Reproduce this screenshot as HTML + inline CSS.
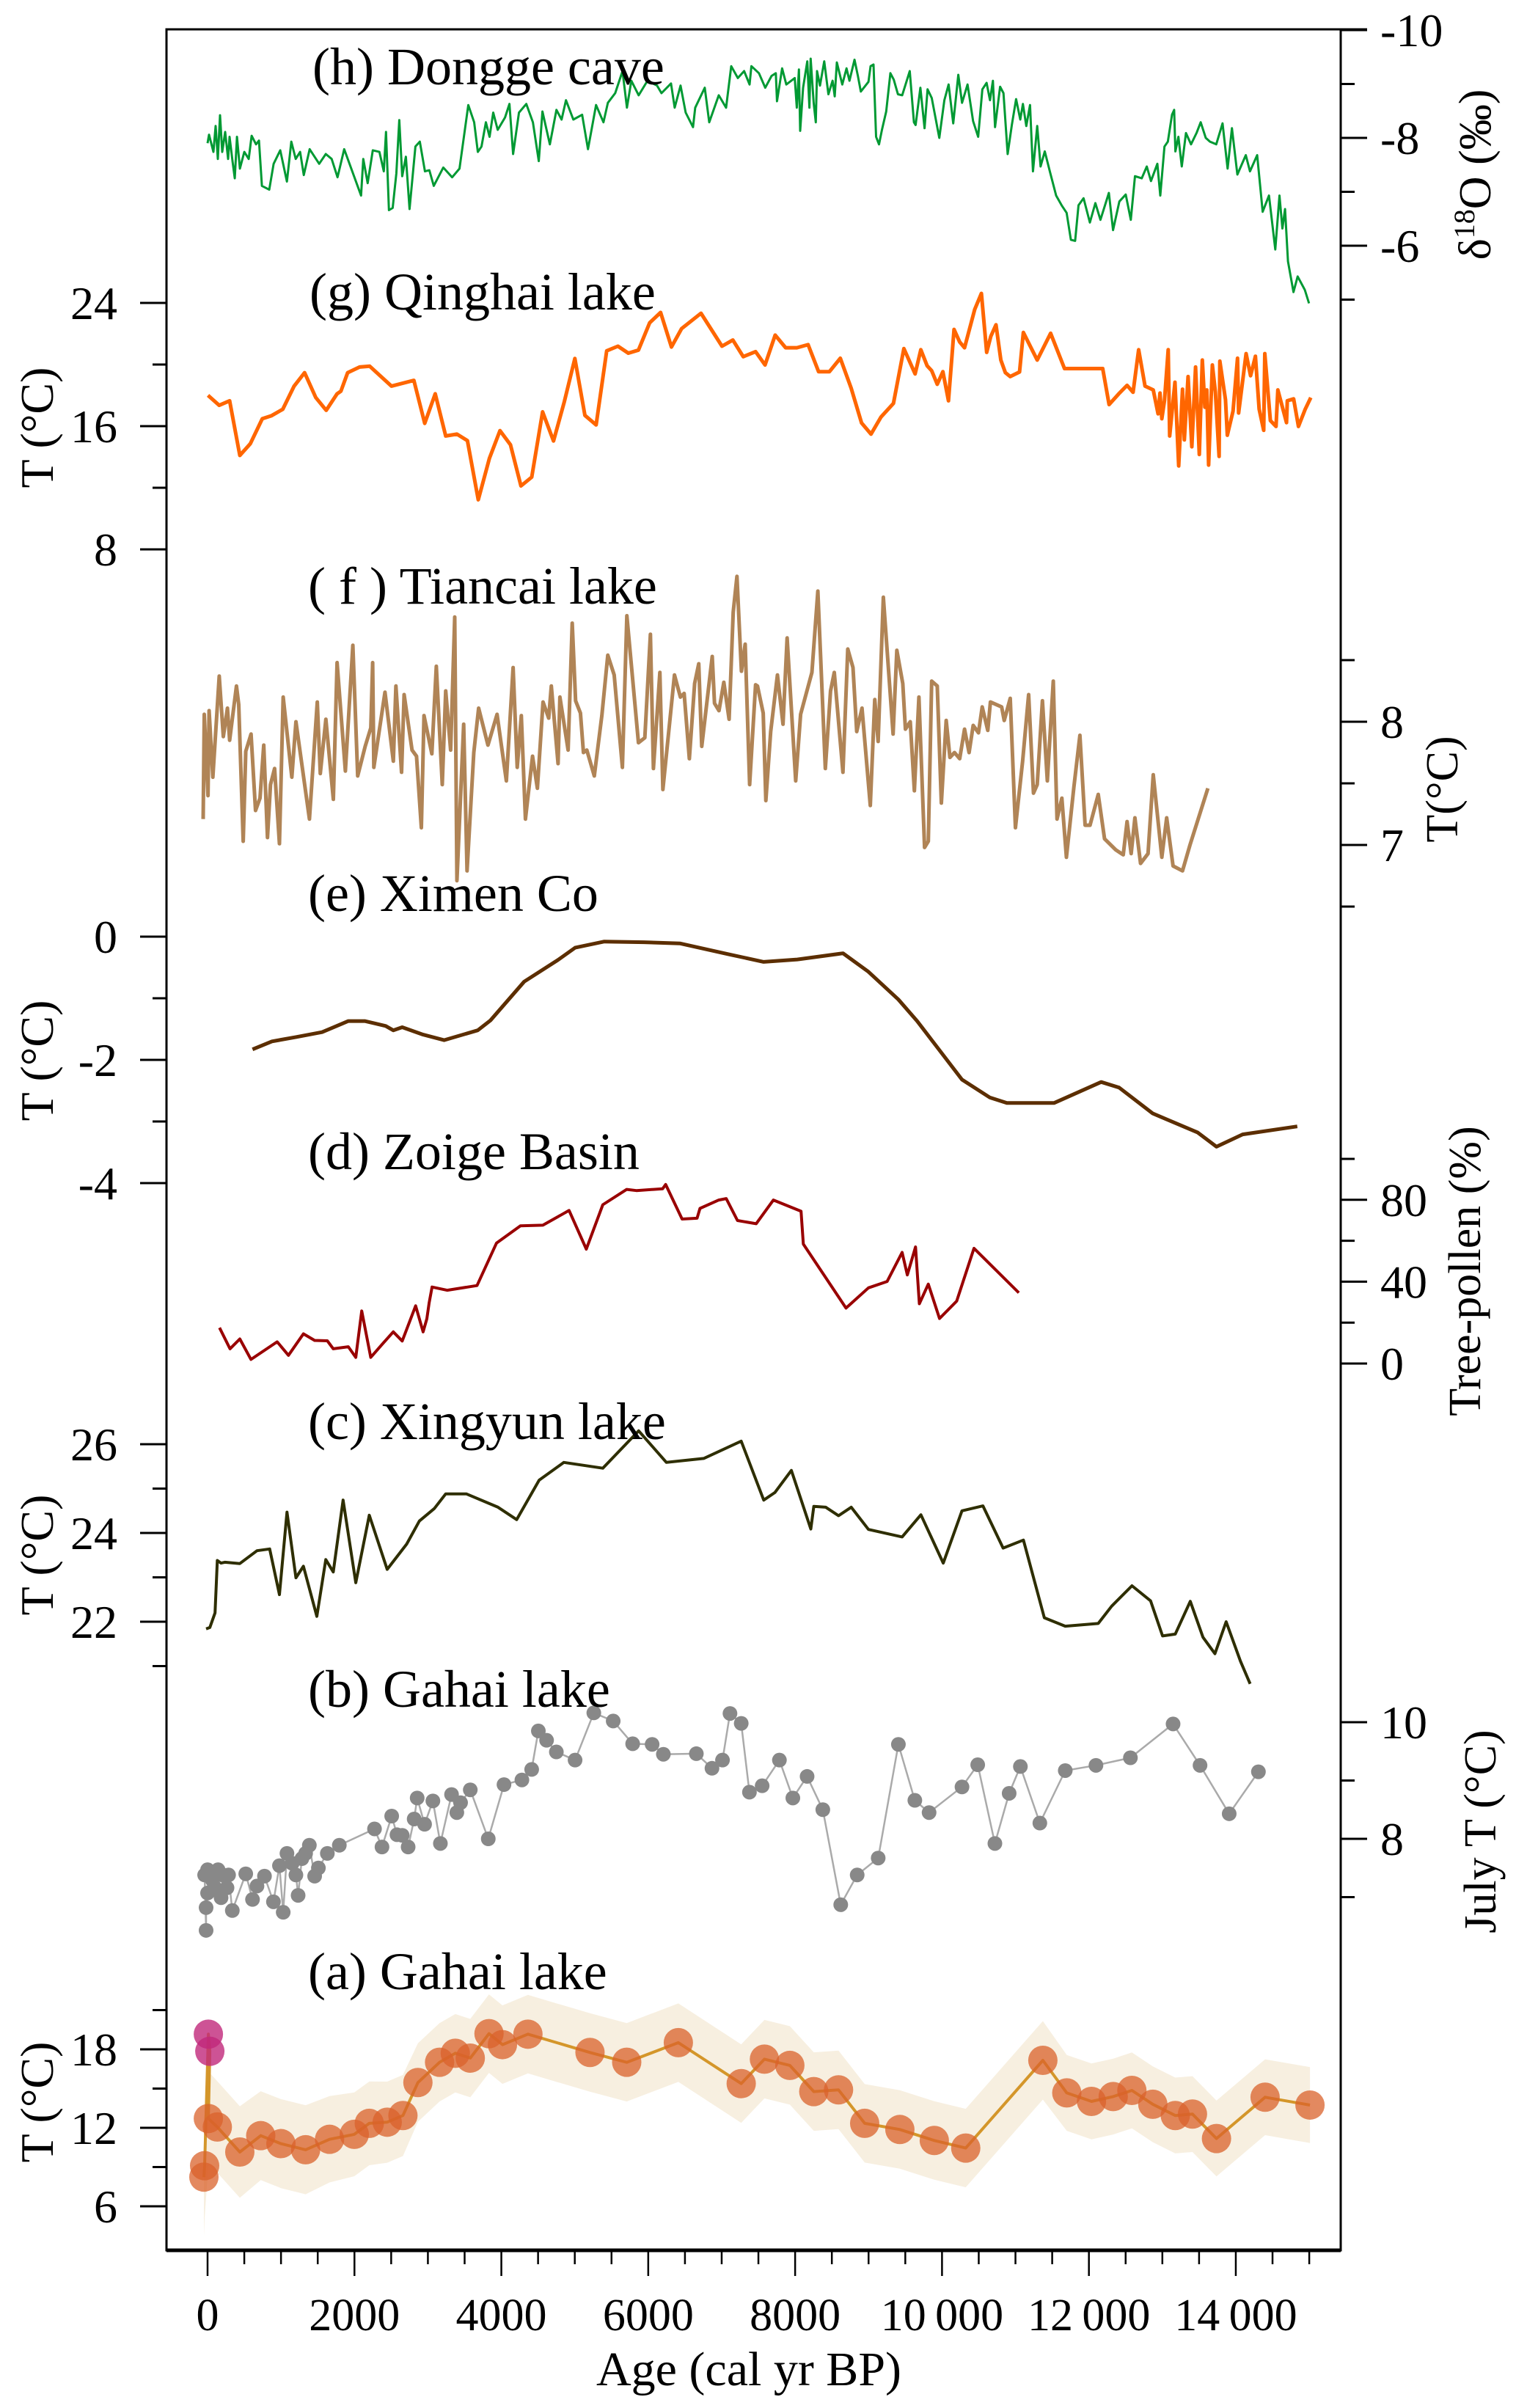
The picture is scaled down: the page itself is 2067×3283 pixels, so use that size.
<!DOCTYPE html>
<html><head><meta charset="utf-8"><style>
html,body{margin:0;padding:0;background:#fff;}
svg{display:block;font-family:"Liberation Serif",serif;}
</style></head><body>
<svg id="chart" width="2067" height="3283" viewBox="0 0 2067 3283" xmlns="http://www.w3.org/2000/svg">
<rect x="0" y="0" width="2067" height="3283" fill="#fff"/>
<g id="bands"></g><g id="series"></g><g id="axes"></g><g id="labels"></g>
</svg>
<script>
const dongAge=[0,20,80,110,140,170,200,240,280,300,340,370,400,440,500,560,600,660,700,740,840,900,990,1080,1140,1200,1260,1310,1390,1520,1610,1690,1770,1860,2090,2120,2180,2250,2340,2400,2430,2470,2520,2570,2610,2650,2700,2750,2830,2890,2960,3020,3080,3210,3330,3430,3550,3630,3680,3730,3790,3840,3890,3950,4050,4110,4160,4240,4340,4430,4510,4560,4660,4750,4820,4880,4980,5100,5180,5290,5390,5450,5550,5650,5710,5770,5870,5990,6120,6180,6310,6360,6440,6510,6610,6640,6770,6830,6960,7060,7130,7220,7306,7380,7405,7507,7593,7679,7737,7753,7823,7880,7995,8023,8052,8069,8109,8166,8195,8212,8252,8281,8298,8338,8396,8453,8510,8539,8568,8642,8700,8740,8809,8855,8895,8998,9027,9067,9102,9142,9182,9240,9297,9343,9400,9458,9561,9618,9641,9705,9762,9803,9860,9963,10032,10090,10153,10222,10273,10348,10423,10492,10549,10607,10653,10693,10722,10791,10837,10894,10951,11009,11066,11101,11147,11198,11238,11296,11342,11399,11468,11554,11629,11697,11755,11812,11858,11927,12013,12088,12157,12272,12329,12415,12501,12570,12627,12719,12788,12845,12932,12972,13029,13075,13132,13161,13178,13218,13264,13321,13390,13465,13522,13591,13648,13734,13820,13889,13947,14021,14136,14193,14291,14366,14452,14538,14595,14635,14670,14710,14785,14842,14940,14997];
const dongVal=[-7.90,-8.06,-7.74,-8.22,-7.61,-8.42,-7.74,-8.11,-7.61,-8.02,-7.57,-7.25,-8.02,-7.43,-7.74,-7.61,-8.04,-7.88,-7.95,-7.11,-7.04,-7.52,-7.77,-7.19,-7.93,-7.61,-7.74,-7.31,-7.79,-7.52,-7.70,-7.61,-7.27,-7.79,-6.93,-7.61,-7.16,-7.77,-7.74,-7.38,-8.11,-6.66,-6.70,-7.34,-8.33,-7.29,-7.65,-6.68,-7.84,-7.93,-7.38,-7.40,-7.11,-7.45,-7.27,-7.43,-8.61,-8.29,-7.74,-7.84,-8.29,-8.02,-8.47,-8.15,-8.38,-8.63,-7.70,-8.47,-8.63,-8.29,-7.57,-8.49,-7.88,-8.52,-8.34,-8.70,-8.34,-8.43,-7.79,-8.61,-8.29,-8.65,-8.83,-9.24,-8.56,-9.06,-8.79,-9.06,-8.97,-8.83,-9.01,-8.56,-8.97,-8.47,-8.20,-8.56,-8.93,-8.29,-8.79,-8.56,-9.33,-9.11,-9.24,-8.99,-9.33,-9.20,-8.93,-9.15,-9.20,-8.68,-9.29,-8.99,-9.11,-8.56,-9.27,-8.13,-8.93,-9.42,-8.56,-9.47,-8.65,-8.29,-9.24,-8.97,-9.42,-8.81,-9.06,-8.77,-9.40,-8.99,-9.29,-9.06,-9.45,-9.15,-8.86,-9.04,-9.33,-9.36,-8.02,-7.88,-8.15,-8.49,-9.20,-9.08,-8.81,-8.79,-9.24,-8.29,-8.24,-8.93,-8.18,-8.90,-8.74,-8.00,-8.70,-8.99,-8.27,-9.17,-8.65,-8.99,-8.31,-8.02,-8.90,-9.02,-8.70,-9.06,-8.20,-8.95,-8.83,-7.70,-8.24,-8.72,-8.34,-8.63,-8.22,-8.61,-7.38,-8.22,-7.47,-7.75,-7.38,-6.93,-6.75,-6.61,-6.11,-6.09,-6.75,-6.88,-6.43,-6.79,-6.48,-6.98,-6.29,-6.82,-6.95,-6.48,-7.29,-7.25,-7.47,-7.20,-7.52,-6.93,-7.84,-7.93,-8.43,-8.52,-7.75,-8.02,-7.47,-8.09,-7.88,-8.09,-8.29,-8.00,-7.93,-7.88,-8.27,-7.43,-8.18,-7.32,-7.68,-7.38,-7.68,-6.63,-6.93,-5.93,-6.93,-6.32,-6.68,-5.71,-5.14,-5.43,-5.18,-4.93];
const qingAge=[6,159,301,439,582,745,872,1025,1178,1321,1474,1616,1764,1815,1907,2070,2208,2503,2809,2957,3100,3242,3395,3538,3686,3838,3981,4124,4267,4414,4562,4710,4858,5001,5138,5291,5434,5587,5729,5867,6020,6168,6316,6454,6719,7004,7152,7294,7462,7590,7728,7871,8024,8177,8319,8467,8615,8763,8905,9033,9170,9339,9481,9634,9711,9797,9859,9935,10012,10088,10164,10241,10307,10445,10536,10608,10664,10735,10801,10863,10929,11056,11107,11296,11479,11668,12188,12275,12407,12519,12601,12677,12764,12876,12942,12968,12993,13029,13080,13100,13172,13222,13274,13299,13350,13401,13452,13503,13544,13579,13605,13630,13681,13722,13773,13783,13860,13885,13962,14023,14038,14140,14201,14267,14318,14380,14395,14471,14548,14573,14690,14701,14787,14853,14945,15021];
const qingVal=[18.0,17.35,17.65,14.1,14.86,16.48,16.68,17.1,18.6,19.47,17.85,17.03,18.1,18.27,19.47,19.84,19.89,18.6,18.97,16.18,18.1,15.36,15.48,15.06,11.22,13.91,15.71,14.79,12.12,12.69,16.93,15.04,17.6,20.39,16.7,16.08,20.89,21.19,20.74,20.94,22.71,23.38,21.14,22.33,23.33,21.19,21.59,20.51,20.84,19.97,21.91,21.09,21.09,21.29,19.54,19.54,20.41,18.47,16.21,15.48,16.6,17.48,21.04,19.39,20.96,19.92,19.6,18.72,19.54,17.65,22.28,21.46,21.09,23.58,24.62,20.79,21.83,22.58,20.29,19.47,19.22,19.52,22.08,20.29,22.03,19.74,19.74,17.4,18.1,18.65,18.2,20.96,18.6,18.35,16.8,18.15,16.48,17.65,20.96,15.36,18.85,13.42,18.4,15.11,19.22,14.66,19.84,14.16,20.29,17.23,18.35,13.47,19.97,18.22,14.04,20.22,17.72,15.41,16.98,20.41,16.85,20.71,19.27,20.54,17.1,15.73,20.71,16.36,15.98,18.35,16.23,17.65,17.77,15.98,17.1,17.85];
const tianAge=[-60,-45,6,21,72,159,215,271,301,393,424,485,520,592,653,714,765,816,857,913,979,1030,1147,1203,1387,1494,1535,1611,1713,1764,1876,1978,2044,2146,2223,2248,2264,2416,2529,2564,2641,2676,2784,2845,2911,2947,3054,3115,3196,3242,3309,3365,3395,3487,3533,3625,3691,3818,3941,4068,4160,4216,4272,4328,4425,4491,4568,4644,4680,4772,4797,4909,4965,5011,5077,5118,5164,5266,5368,5449,5536,5648,5709,5867,5954,6030,6071,6158,6199,6357,6438,6489,6560,6632,6688,6729,6871,6902,6963,7029,7101,7157,7208,7269,7320,7381,7462,7488,7565,7601,7667,7759,7835,7891,8008,8075,8228,8309,8411,8482,8533,8651,8717,8788,8839,8911,9023,9084,9130,9201,9334,9385,9466,9502,9568,9624,9685,9762,9813,9859,9935,9991,10057,10108,10170,10241,10307,10368,10424,10496,10547,10623,10659,10812,10847,10929,11000,11097,11179,11245,11296,11367,11434,11515,11566,11632,11694,11795,11877,11948,12015,12127,12213,12366,12468,12519,12575,12626,12703,12805,12876,12993,13059,13146,13274,13376,13620];
const tianVal=[7.21,8.06,7.40,8.09,7.55,8.37,7.88,8.11,7.85,8.29,8.14,7.03,7.76,7.90,7.28,7.38,7.81,7.06,7.49,7.62,7.01,8.20,7.55,8.00,7.21,8.16,7.58,8.02,7.37,8.48,7.60,8.62,7.56,7.80,7.95,8.48,7.63,8.24,7.68,8.29,7.59,8.22,7.77,7.72,7.14,8.05,7.74,8.45,7.49,8.25,7.77,8.85,6.71,7.98,6.79,7.75,8.11,7.81,8.06,7.52,8.44,7.63,8.05,7.21,7.72,7.46,8.16,8.03,8.29,7.66,8.20,7.77,8.80,8.17,8.07,7.75,7.77,7.56,8.05,8.54,8.38,7.63,8.86,7.83,7.87,8.71,7.62,8.40,7.45,8.38,8.20,8.23,7.70,8.31,8.47,7.80,8.53,8.15,8.09,8.32,8.02,8.89,9.18,8.41,8.63,7.49,8.30,8.29,8.07,7.36,7.92,8.38,7.98,8.68,7.52,8.06,8.40,9.06,7.62,8.25,8.40,7.59,8.59,8.44,7.92,8.11,7.32,8.18,7.84,9.01,7.90,8.58,8.31,7.94,8.00,7.44,8.20,6.98,7.03,8.33,8.29,7.34,8.01,7.71,7.75,7.70,7.94,7.75,7.97,7.91,8.12,7.93,8.16,8.12,8.01,8.19,7.14,7.68,8.22,7.42,7.49,8.17,7.52,8.33,7.21,7.38,6.90,7.47,7.89,7.16,7.16,7.41,7.05,6.96,6.92,7.19,6.93,7.22,6.85,6.93,7.57,6.90,7.22,6.83,6.79,7.00,7.46];
const ximAge=[612,877,1203,1559,1916,2140,2426,2528,2650,2935,3220,3679,3852,4311,4769,5004,5401,5941,6430,7113,7571,8030,8652,8998,9406,9661,10272,10649,10883,11525,12167,12412,12870,13482,13737,14093,14837];
const ximVal=[-1.83,-1.70,-1.63,-1.55,-1.37,-1.37,-1.45,-1.52,-1.47,-1.59,-1.68,-1.52,-1.36,-0.73,-0.38,-0.18,-0.08,-0.09,-0.11,-0.29,-0.41,-0.37,-0.27,-0.57,-1.02,-1.37,-2.32,-2.61,-2.70,-2.70,-2.36,-2.45,-2.87,-3.18,-3.41,-3.21,-3.08];
const zoiAge=[163,306,439,591,948,1101,1305,1458,1631,1712,1916,2018,2099,2222,2375,2528,2650,2833,2935,2986,3017,3057,3261,3669,3934,4260,4566,4922,5157,5381,5707,5839,6196,6237,6461,6665,6705,6960,7062,7215,7470,7704,8081,8112,8693,8998,9253,9457,9528,9640,9691,9813,9966,10200,10435,11046];
const zoiVal=[17.5,7.2,12.0,2.0,10.6,4.0,14.5,11.3,11.1,7.2,8.2,3.0,25.7,3.0,9.3,15.5,11.0,28.2,15.5,21.9,29.6,37.4,35.8,38.1,58.9,67.3,67.6,74.8,55.9,77.6,85.1,84.5,85.4,87.5,70.6,71.0,75.8,79.9,80.6,69.9,68.3,79.9,74.4,58.4,27.1,37.0,40.1,54.3,43.3,57.0,29.2,38.8,22.0,30.5,56.3,34.6];
const xingAge=[-20,31,102,133,184,235,439,673,846,979,1081,1203,1305,1488,1610,1712,1845,2018,2202,2446,2711,2884,3088,3241,3526,3954,4209,4515,4851,5381,5870,6247,6756,7266,7572,7724,7949,8214,8254,8417,8591,8764,8998,9457,9712,10017,10272,10557,10832,11108,11393,11678,12127,12310,12586,12840,13003,13176,13380,13553,13716,13869,14063,14195];
const xingVal=[21.84,21.87,22.20,23.38,23.32,23.34,23.31,23.60,23.64,22.61,24.47,22.99,23.25,22.12,23.40,23.12,24.74,22.88,24.40,23.18,23.75,24.27,24.55,24.88,24.88,24.58,24.30,25.19,25.59,25.46,26.30,25.59,25.68,26.07,24.74,24.91,25.41,24.09,24.60,24.58,24.39,24.58,24.08,23.91,24.41,23.32,24.50,24.61,23.66,23.84,22.09,21.90,21.96,22.35,22.81,22.47,21.68,21.72,22.46,21.65,21.28,22.00,21.11,20.60];
const gbAge=[-40,-20,-20,0,0,62,102,143,184,204,265,286,337,520,612,673,775,897,979,1030,1081,1152,1203,1233,1284,1335,1386,1458,1509,1631,1794,2273,2375,2507,2579,2650,2731,2813,2854,2955,3068,3170,3322,3394,3445,3577,3822,4036,4280,4413,4504,4616,4749,5004,5259,5523,5788,6053,6206,6655,6868,7011,7113,7266,7378,7551,7786,7969,8163,8377,8621,8845,9131,9406,9630,9824,10272,10486,10720,10914,11067,11332,11678,12096,12565,13146,13513,13910,14308];
const gbVal=[7.38,6.43,6.82,7.07,7.47,7.30,7.16,7.47,6.99,7.38,7.16,7.38,6.77,7.40,6.96,7.19,7.36,6.92,7.54,6.74,7.75,7.58,7.38,7.03,7.66,7.75,7.89,7.36,7.50,7.75,7.89,8.17,7.86,8.39,8.07,8.06,7.86,8.34,8.70,8.25,8.65,7.92,8.76,8.45,8.62,8.84,8.00,8.93,9.01,9.19,9.85,9.69,9.49,9.35,10.16,10.02,9.63,9.62,9.45,9.46,9.21,9.35,10.15,9.98,8.80,8.91,9.35,8.70,9.07,8.50,6.87,7.38,7.67,9.62,8.66,8.45,8.89,9.27,7.92,8.78,9.24,8.27,9.17,9.26,9.39,9.97,9.26,8.43,9.15];
const gaAge=[-50,-40,11,133,439,724,999,1335,1661,1998,2202,2446,2660,2864,3159,3373,3577,3832,4015,4362,5207,5707,6410,7266,7582,7928,8254,8591,8947,9426,9895,10323,11373,11699,12035,12331,12585,12870,13176,13410,13737,14399,15010];
const gaVal=[8.23,9.10,12.71,12.06,10.15,11.40,10.79,10.32,11.12,11.50,12.34,12.43,12.94,15.46,17.01,17.70,17.33,19.20,18.36,19.16,17.76,17.01,18.51,15.38,17.25,16.77,14.77,14.90,12.34,11.87,11.03,10.45,17.16,14.67,14.02,14.39,14.86,13.80,12.94,13.05,11.18,14.34,13.74];
const gaErr=[4.5,4.0,3.6,3.5,3.5,3.4,3.4,3.4,3.3,3.2,3.2,3.1,3.1,3.0,3.0,3.0,3.0,3.0,3.0,3.0,3.0,3.0,3.0,3.0,3.0,3.0,3.0,3.0,3.0,3.0,3.0,3.0,3.0,2.9,2.9,2.9,2.9,2.9,2.9,2.9,2.9,2.9,2.9];
const pinkAge=[11,31];
const pinkVal=[19.16,17.85];
const xTicks=[0,2000,4000,6000,8000,10000,12000,14000];
const xTickLabels=["0","2000","4000","6000","8000","10\u2009000","12\u2009000","14\u2009000"];

const NS="http://www.w3.org/2000/svg";
const X=a=>283+a*0.10014;
const yDong=v=>41+(v+10)*73.5;
const yQing=v=>413+(24-v)*21;
const yTian=v=>984+(8-v)*168;
const yXim=v=>1277-v*84;
const yZoi=v=>1859-v*2.79;
const yXing=v=>1969+(26-v)*60.5;
const yGb=v=>2348+(10-v)*79.5;
const yGa=v=>2794+(18-v)*17.83;
function mk(tag,attrs,parent){const e=document.createElementNS(NS,tag);for(const k in attrs)e.setAttribute(k,attrs[k]);parent.appendChild(e);return e;}
const gS=document.getElementById('series'),gA=document.getElementById('axes'),gL=document.getElementById('labels'),gB=document.getElementById('bands');
function pts(ages,vals,fy){return ages.map((a,i)=>X(a).toFixed(1)+','+fy(vals[i]).toFixed(1)).join(' ');}
function line(ages,vals,fy,color,w,name){const e=mk('polyline',{points:pts(ages,vals,fy),fill:'none',stroke:color,'stroke-width':w,'stroke-linejoin':'round'},gS);


return e;}

// band (a)
{const up=gaAge.map((a,i)=>X(a).toFixed(1)+','+yGa(gaVal[i]+gaErr[i]).toFixed(1));
const lo=gaAge.map((a,i)=>X(a).toFixed(1)+','+yGa(gaVal[i]-gaErr[i]).toFixed(1)).reverse();
const b=mk('polygon',{points:up.concat(lo).join(' '),fill:'#f7efe0'},gB);

}

line(dongAge,dongVal,yDong,'#009933',3,'dongge-cave-line');
line(qingAge,qingVal,yQing,'#ff6600',5,'qinghai-lake-line');
line(tianAge,tianVal,yTian,'#b08456',5,'tiancai-lake-line');
line(ximAge,ximVal,yXim,'#5c2e00',5,'ximen-co-line');
line(zoiAge,zoiVal,yZoi,'#990000',4,'zoige-basin-line');
line(xingAge,xingVal,yXing,'#2e2e00',4,'xingyun-lake-line');
{const idx=gbAge.map((a,i)=>i).sort((i,j)=>gbAge[i]-gbAge[j]);
line(idx.map(i=>gbAge[i]),idx.map(i=>gbVal[i]),yGb,'#aaaaaa',2.5,'gahai-b-line');
gbAge.forEach((a,i)=>{const c=mk('circle',{cx:X(a),cy:yGb(gbVal[i]),r:10,fill:'#888888'},gS);

});}
{const la=gaAge.slice(0,2).concat(pinkAge).concat(gaAge.slice(2));
const lv=gaVal.slice(0,2).concat(pinkVal).concat(gaVal.slice(2));
line(la,lv,yGa,'#d4962a',4,'gahai-a-line');
gaAge.forEach((a,i)=>{const c=mk('circle',{cx:X(a),cy:yGa(gaVal[i]),r:20,fill:'#d9622b','fill-opacity':0.75},gS);

});
pinkAge.forEach((a,i)=>{const c=mk('circle',{cx:X(a),cy:yGa(pinkVal[i]),r:20,fill:'#c0287a','fill-opacity':0.8},gS);

});}

// frame
{const f=mk('rect',{x:227,y:40,width:1601,height:3028,fill:'none',stroke:'#000','stroke-width':3},gA);


mk('line',{x1:227,y1:3068,x2:1828,y2:3068,stroke:'#000','stroke-width':5},gA);
mk('line',{x1:1828,y1:40,x2:1864,y2:40,stroke:'#000','stroke-width':3},gA);}

function txt(s,x,y,size,anchor,name,rot){const t=mk('text',{x:x,y:y,'font-size':size,'text-anchor':anchor,fill:'#000'},gL);
if(rot)t.setAttribute('transform','rotate(-90 '+x+' '+y+')');
t.textContent=s;


return t;}

// x axis
for(let a=0;a<=15000;a+=500){const major=a%2000===0;mk('line',{x1:X(a),y1:3068,x2:X(a),y2:major?3103:3087,stroke:'#000','stroke-width':2.5},gA);}
xTicks.forEach((a,i)=>txt(xTickLabels[i],X(a),3177,62,'middle','x-tick-label'));
txt('Age (cal yr BP)',1021,3252,66,'middle','x-axis-title');

// y axes
function yaxis(side,fy,majors,minors,labels,name){
const x0=side==='L'?227:1828, d=side==='L'?-1:1;
majors.forEach((v,i)=>{mk('line',{x1:x0,y1:fy(v),x2:x0+d*36,y2:fy(v),stroke:'#000','stroke-width':3},gA);
txt(labels[i],side==='L'?160:1882,fy(v)+22,64,side==='L'?'end':'start',name+'-tick-label');});
minors.forEach(v=>mk('line',{x1:x0,y1:fy(v),x2:x0+d*19,y2:fy(v),stroke:'#000','stroke-width':3},gA));}
yaxis('R',yDong,[-10,-8,-6],[-9,-7,-5],['-10','-8','-6'],'dongge-axis');
yaxis('L',yQing,[24,16,8],[20,12],['24','16','8'],'qinghai-axis');
yaxis('R',yTian,[8,7],[8.5,7.5,6.5],['8','7'],'tiancai-axis');
yaxis('L',yXim,[0,-2,-4],[-1,-3],['0','-2','-4'],'ximen-axis');
yaxis('R',yZoi,[80,40,0],[100,60,20],['80','40','0'],'zoige-axis');
yaxis('L',yXing,[26,24,22],[25,23,21],['26','24','22'],'xingyun-axis');
yaxis('R',yGb,[10,8],[9,7],['10','8'],'gahai-b-axis');
yaxis('L',yGa,[18,12,6],[21,15,9],['18','12','6'],'gahai-a-axis');

// axis titles
txt('T (°C)',72,583,64,'middle','qinghai-y-title',true);
txt('T (°C)',72,1446,64,'middle','ximen-y-title',true);
txt('T (°C)',72,2120,64,'middle','xingyun-y-title',true);
txt('T (°C)',72,2866,64,'middle','gahai-a-y-title',true);
{const t=txt('',2032,238,62,'middle','dongge-y-title',true);t.innerHTML='δ<tspan font-size="40" dy="-22">18</tspan><tspan dy="22">O (‰)</tspan>';}
txt('T(°C)',1987,1076,62,'middle','tiancai-y-title',true);
txt('Tree-pollen (%)',2018,1733,62,'middle','zoige-y-title',true);
txt('July T (°C)',2039,2497,62,'middle','gahai-b-y-title',true);

// panel labels
txt('(h) Dongge cave',426,115,72,'start','panel-label-h');
txt('(g) Qinghai lake',422,422,72,'start','panel-label-g');
txt('( f ) Tiancai lake',420,823,72,'start','panel-label-f');
txt('(e) Ximen Co',420,1242,72,'start','panel-label-e');
txt('(d) Zoige Basin',420,1594,72,'start','panel-label-d');
txt('(c) Xingyun lake',420,1962,72,'start','panel-label-c');
txt('(b) Gahai lake',420,2327,72,'start','panel-label-b');
txt('(a) Gahai lake',420,2712,72,'start','panel-label-a');
</script>
</body></html>
